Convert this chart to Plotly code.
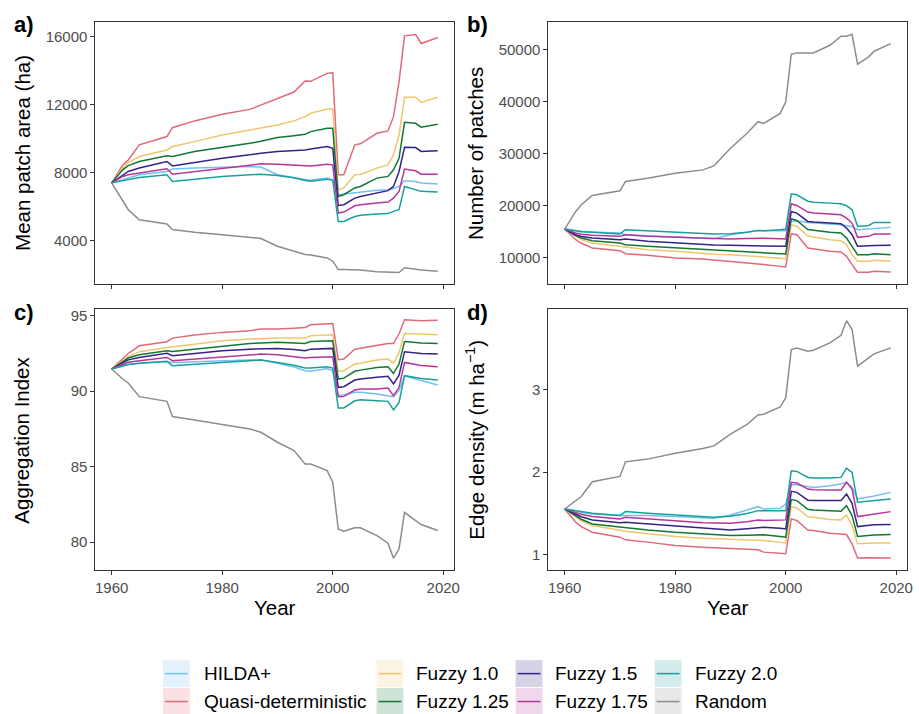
import plotly.graph_objects as go

W, H = 919, 714
FONT = "Liberation Sans, Arial, sans-serif"

YEARS = [1960, 1962, 1963, 1965, 1970, 1971, 1975, 1980, 1985, 1987, 1990, 1993, 1995, 1996,
         1999, 2000, 2001, 2002, 2004, 2005, 2008, 2010, 2011, 2012, 2013, 2015, 2016, 2019]

SERIES = ["HILDA+", "Quasi-deterministic", "Fuzzy 1.0", "Fuzzy 1.25",
          "Fuzzy 1.5", "Fuzzy 1.75", "Fuzzy 2.0", "Random"]
COLORS = ["#74BFF2", "#E0697A", "#EFC66E", "#117733",
          "#332288", "#B4379B", "#17A19A", "#8C8C8C"]

# a) Mean patch area (ha)
area_hilda = [7400, 7590, 7720, 7880, 8070, 8210, 8270, 8330, 8370, 8330, 7880, 7700, 7580, 7560, 7680, 7540, 6700, 6740, 6830, 6860, 6960, 7000, 7050, 7190, 7520, 7480, 7390, 7330]
area_quasi = [7400, 8460, 8750, 9640, 10130, 10650, 11050, 11440, 11730, 11990, 12380, 12750, 13400, 13380, 13850, 13890, 7880, 7880, 9640, 9700, 10320, 10460, 11300, 13360, 16060, 16140, 15610, 15960]
area_f10 = [7400, 8270, 8600, 8950, 9340, 9540, 9830, 10220, 10520, 10640, 10810, 11050, 11300, 11500, 11750, 11750, 7000, 7100, 7880, 7900, 8270, 8460, 9050, 10220, 12440, 12440, 12140, 12440]
area_f125 = [7400, 8170, 8420, 8660, 8990, 8950, 9250, 9480, 9730, 9850, 10070, 10180, 10260, 10420, 10620, 10620, 6600, 6700, 7100, 7190, 7680, 7780, 8170, 8850, 10970, 10910, 10680, 10850]
area_f15 = [7400, 7880, 8070, 8270, 8660, 8400, 8600, 8850, 9050, 9150, 9250, 9300, 9340, 9400, 9540, 9440, 6070, 6110, 6500, 6600, 6800, 6940, 7190, 8070, 9500, 9480, 9250, 9290]
area_f175 = [7400, 7780, 7880, 7970, 8230, 7910, 8070, 8270, 8460, 8520, 8500, 8450, 8400, 8400, 8500, 8460, 5620, 5680, 6050, 6110, 6210, 6270, 6500, 6900, 8210, 8110, 7910, 7910]
area_f20 = [7400, 7520, 7620, 7720, 7880, 7480, 7620, 7780, 7880, 7910, 7840, 7700, 7540, 7500, 7620, 7580, 5130, 5130, 5420, 5490, 5570, 5590, 5720, 5820, 7190, 7000, 6900, 6860]
area_random = [7400, 6300, 5820, 5230, 4980, 4650, 4490, 4350, 4200, 4120, 3670, 3400, 3180, 3150, 2980, 2785, 2300, 2300, 2280, 2260, 2160, 2120, 2120, 2120, 2400, 2300, 2270, 2200]

# b) Number of patches
np_hilda = [15440, 15120, 15000, 14860, 14670, 14350, 14160, 13900, 13710, 13580, 14350, 14800, 15180, 15100, 15100, 15120, 16910, 17040, 16700, 16590, 16400, 16270, 16140, 15950, 15310, 15440, 15630, 15760]
np_quasi = [15440, 13390, 12700, 11790, 11280, 10700, 10380, 9870, 9680, 9500, 9230, 8900, 8720, 8590, 8250, 8140, 14540, 14350, 11800, 11660, 11150, 11020, 10190, 8590, 7120, 7120, 7310, 7180]
np_f10 = [15440, 14030, 13400, 12750, 12110, 11920, 11470, 11150, 10700, 10600, 10510, 10300, 10190, 10100, 9800, 9680, 16270, 15950, 14100, 13900, 13390, 13200, 12430, 10510, 9230, 9230, 9420, 9230]
np_f125 = [15440, 14160, 13700, 13200, 12750, 12430, 12110, 11790, 11470, 11350, 11150, 11050, 10960, 10900, 10700, 10640, 17420, 17100, 15350, 15180, 14800, 14670, 13710, 12110, 10510, 10510, 10700, 10510]
np_f15 = [15440, 14350, 14000, 13710, 13390, 13520, 13070, 12750, 12430, 12350, 12300, 12270, 12240, 12200, 12150, 12110, 18830, 18510, 16900, 16780, 16590, 16460, 15630, 14350, 12110, 12240, 12280, 12300]
np_f175 = [15440, 14670, 14450, 14220, 14030, 14350, 14030, 13840, 13580, 13550, 13520, 13600, 13710, 13650, 13550, 13520, 20300, 19980, 18700, 18510, 18320, 18190, 17550, 16590, 13840, 14030, 14480, 14480]
np_f20 = [15440, 14990, 14900, 14800, 14480, 15310, 15120, 14800, 14540, 14500, 14540, 14800, 15180, 15100, 15300, 15440, 22220, 22030, 20800, 20620, 20430, 20300, 19920, 19150, 15950, 16140, 16720, 16720]
np_random = [15440, 18830, 20110, 21900, 22800, 24590, 25230, 26190, 26830, 27600, 30990, 33870, 36110, 35790, 37710, 39950, 49100, 49360, 49360, 49360, 50830, 52560, 52560, 52940, 47180, 48590, 49680, 51150]

# c) Aggregation Index
ai_hilda = [91.47, 91.69, 91.77, 91.85, 91.96, 91.91, 91.96, 92.02, 92.09, 92.09, 91.85, 91.60, 91.36, 91.32, 91.51, 91.36, 89.71, 89.75, 89.93, 89.93, 89.82, 89.71, 89.64, 90.04, 91.03, 90.81, 90.70, 90.41]
ai_quasi = [91.47, 92.13, 92.50, 93.01, 93.28, 93.52, 93.72, 93.90, 94.01, 94.12, 94.12, 94.18, 94.23, 94.40, 94.49, 94.49, 92.09, 92.13, 92.79, 92.86, 93.08, 93.17, 93.17, 93.79, 94.74, 94.71, 94.67, 94.71]
ai_f10 = [91.47, 92.02, 92.30, 92.62, 92.90, 92.95, 93.12, 93.35, 93.46, 93.50, 93.52, 93.52, 93.52, 93.68, 93.72, 93.74, 91.32, 91.36, 91.80, 91.85, 92.07, 92.13, 91.87, 92.57, 93.83, 93.79, 93.76, 93.74]
ai_f125 = [91.47, 91.96, 92.20, 92.42, 92.68, 92.64, 92.79, 93.01, 93.17, 93.20, 93.24, 93.20, 93.17, 93.30, 93.33, 93.35, 90.81, 90.87, 91.32, 91.40, 91.58, 91.62, 91.18, 91.80, 93.30, 93.24, 93.20, 93.17]
ai_f15 = [91.47, 91.91, 92.08, 92.24, 92.51, 92.35, 92.51, 92.68, 92.79, 92.82, 92.84, 92.76, 92.68, 92.79, 92.82, 92.84, 90.26, 90.30, 90.74, 90.81, 90.92, 90.99, 90.48, 91.07, 92.62, 92.53, 92.50, 92.46]
ai_f175 = [91.47, 91.80, 91.92, 92.02, 92.24, 92.02, 92.13, 92.29, 92.42, 92.46, 92.42, 92.30, 92.20, 92.24, 92.27, 92.29, 89.64, 89.66, 90.08, 90.15, 90.15, 90.21, 89.71, 90.26, 91.91, 91.74, 91.70, 91.62]
ai_f20 = [91.47, 91.69, 91.77, 91.85, 91.98, 91.69, 91.80, 91.91, 92.02, 92.07, 91.91, 91.72, 91.54, 91.54, 91.62, 91.54, 88.89, 88.89, 89.37, 89.44, 89.37, 89.33, 88.76, 89.26, 91.03, 90.92, 90.85, 90.74]
ai_random = [91.47, 90.81, 90.55, 89.64, 89.33, 88.32, 88.10, 87.79, 87.50, 87.28, 86.62, 86.07, 85.18, 85.18, 84.74, 83.97, 80.88, 80.73, 80.95, 80.95, 80.44, 79.93, 78.94, 79.56, 81.98, 81.43, 81.17, 80.77]

# d) Edge density (m ha^-1)
ed_hilda = [1.554, 1.534, 1.514, 1.494, 1.474, 1.474, 1.474, 1.462, 1.454, 1.442, 1.482, 1.540, 1.582, 1.554, 1.562, 1.614, 1.847, 1.847, 1.820, 1.815, 1.835, 1.855, 1.876, 1.815, 1.675, 1.695, 1.710, 1.755]
ed_quasi = [1.554, 1.394, 1.340, 1.273, 1.213, 1.181, 1.153, 1.112, 1.092, 1.085, 1.072, 1.065, 1.060, 1.032, 1.015, 1.012, 1.434, 1.414, 1.300, 1.293, 1.261, 1.245, 1.245, 1.133, 0.960, 0.964, 0.962, 0.960]
ed_f10 = [1.554, 1.454, 1.410, 1.353, 1.293, 1.285, 1.253, 1.221, 1.201, 1.195, 1.185, 1.180, 1.177, 1.173, 1.150, 1.141, 1.582, 1.566, 1.460, 1.454, 1.426, 1.422, 1.482, 1.353, 1.133, 1.141, 1.141, 1.141]
ed_f125 = [1.554, 1.474, 1.430, 1.373, 1.333, 1.325, 1.301, 1.273, 1.253, 1.245, 1.233, 1.237, 1.241, 1.241, 1.220, 1.213, 1.667, 1.655, 1.550, 1.542, 1.534, 1.526, 1.594, 1.474, 1.221, 1.233, 1.240, 1.245]
ed_f15 = [1.554, 1.494, 1.460, 1.422, 1.386, 1.394, 1.373, 1.345, 1.321, 1.312, 1.301, 1.315, 1.333, 1.333, 1.320, 1.313, 1.767, 1.755, 1.660, 1.655, 1.655, 1.655, 1.735, 1.622, 1.341, 1.361, 1.363, 1.365]
ed_f175 = [1.554, 1.514, 1.490, 1.462, 1.434, 1.454, 1.434, 1.406, 1.386, 1.384, 1.382, 1.400, 1.422, 1.414, 1.420, 1.422, 1.876, 1.867, 1.795, 1.787, 1.783, 1.783, 1.876, 1.795, 1.462, 1.482, 1.500, 1.522]
ed_f20 = [1.554, 1.534, 1.518, 1.502, 1.474, 1.522, 1.502, 1.482, 1.462, 1.454, 1.466, 1.500, 1.534, 1.534, 1.526, 1.534, 2.016, 2.008, 1.935, 1.928, 1.928, 1.936, 2.048, 1.996, 1.635, 1.647, 1.660, 1.675]
ed_random = [1.554, 1.655, 1.705, 1.884, 1.948, 2.124, 2.157, 2.229, 2.285, 2.317, 2.458, 2.578, 2.691, 2.699, 2.787, 2.900, 3.482, 3.502, 3.462, 3.474, 3.562, 3.655, 3.831, 3.723, 3.281, 3.382, 3.430, 3.502]

PANELS = [
    ("a)", "Mean patch area (ha)", [area_hilda, area_quasi, area_f10, area_f125, area_f15, area_f175, area_f20, area_random], [4000, 8000, 12000, 16000], [1430, 16880]),
    ("b)", "Number of patches", [np_hilda, np_quasi, np_f10, np_f125, np_f15, np_f175, np_f20, np_random], [10000, 20000, 30000, 40000, 50000], [4815, 55320]),
    ("c)", "Aggregation Index", [ai_hilda, ai_quasi, ai_f10, ai_f125, ai_f15, ai_f175, ai_f20, ai_random], [80, 85, 90, 95], [78.13, 95.44]),
    ("d)", "Edge density (m ha<sup>\u22121</sup>)", [ed_hilda, ed_quasi, ed_f10, ed_f125, ed_f15, ed_f175, ed_f20, ed_random], [1, 2, 3], [0.811, 3.971]),
]

X_TICKS = [1960, 1980, 2000, 2020]
X_RANGE = [1957.05, 2021.95]

# panel boxes in pixels: (left, top, right, bottom)
BOXES = [(96, 20, 457, 283), (552, 20, 913, 283), (96, 308, 457, 570), (552, 308, 913, 570)]


def px(x):
    return x / W


def py(y):
    return 1 - y / H


fig = go.Figure()
layout = dict(
    width=W, height=H, margin=dict(l=0, r=0, t=0, b=0),
    paper_bgcolor="white", plot_bgcolor="white", showlegend=False,
    font=dict(family=FONT, color="black"),
)
annotations = []
shapes = []

for i, (tag, title, data, yticks, yrange) in enumerate(PANELS):
    n = i + 1
    xa = "x" if n == 1 else f"x{n}"
    ya = "y" if n == 1 else f"y{n}"
    l, t, r, b = BOXES[i]
    for name, color, vals in zip(SERIES, COLORS, data):
        fig.add_trace(go.Scatter(x=YEARS, y=vals, mode="lines", name=name,
                                 line=dict(color=color, width=1.5),
                                 xaxis=xa, yaxis=ya, showlegend=False))
    bottom = i >= 2
    common = dict(showline=True, linecolor="#333333", linewidth=1, mirror=True,
                  ticks="outside", ticklen=4, tickcolor="#333333", tickwidth=1,
                  showgrid=False, zeroline=False, tickformat="d",
                  tickfont=dict(size=15, color="#4D4D4D", family=FONT))
    layout["xaxis" if n == 1 else f"xaxis{n}"] = dict(
        domain=[px(l), px(r)], anchor=ya, range=X_RANGE, tickvals=X_TICKS,
        showticklabels=bottom, **common)
    layout["yaxis" if n == 1 else f"yaxis{n}"] = dict(
        domain=[py(b), py(t)], anchor=xa, range=yrange, tickvals=yticks,
        **common)
    # panel tag
    annotations.append(dict(text=f"<b>{tag}</b>", x=px(l - 84), y=py(t + 3), xref="paper", yref="paper",
                            xanchor="left", yanchor="middle", showarrow=False,
                            font=dict(size=22, family=FONT, color="black")))
    # y title
    annotations.append(dict(text=title, x=px(l - 74), y=py((t + b) / 2), xref="paper", yref="paper",
                            xanchor="center", yanchor="middle", textangle=-90, showarrow=False,
                            font=dict(size=20.5, family=FONT, color="black")))
    if bottom:
        annotations.append(dict(text="Year", x=px((l + r) / 2), y=py(607), xref="paper", yref="paper",
                                xanchor="center", yanchor="middle", showarrow=False,
                                font=dict(size=20.5, family=FONT, color="black")))

# custom legend (ggplot style keys)
LEG_COLS = [(164, 203), (379, 417), (519, 557), (659, 698)]
LEG_ROWS = [(660, 687), (688, 715)]


def hex_to_rgba(h, a):
    h = h.lstrip("#")
    return f"rgba({int(h[0:2], 16)},{int(h[2:4], 16)},{int(h[4:6], 16)},{a})"


for k, (name, color) in enumerate(zip(SERIES, COLORS)):
    bx, tx = LEG_COLS[k // 2]
    y0, y1 = LEG_ROWS[k % 2]
    ym = (y0 + y1) / 2
    shapes.append(dict(type="rect", xref="paper", yref="paper",
                       x0=px(bx), x1=px(bx + 27), y0=py(y1), y1=py(y0),
                       fillcolor=hex_to_rgba(color, 0.2), line=dict(width=0), layer="below"))
    shapes.append(dict(type="line", xref="paper", yref="paper",
                       x0=px(bx + 2), x1=px(bx + 25), y0=py(ym), y1=py(ym),
                       line=dict(color=color, width=1.5)))
    annotations.append(dict(text=name, x=px(tx), y=py(ym), xref="paper", yref="paper",
                            xanchor="left", yanchor="middle", showarrow=False,
                            font=dict(size=19, family=FONT, color="black")))

layout["annotations"] = annotations
layout["shapes"] = shapes
fig.update_layout(**layout)
fig.write_html("out.html")
